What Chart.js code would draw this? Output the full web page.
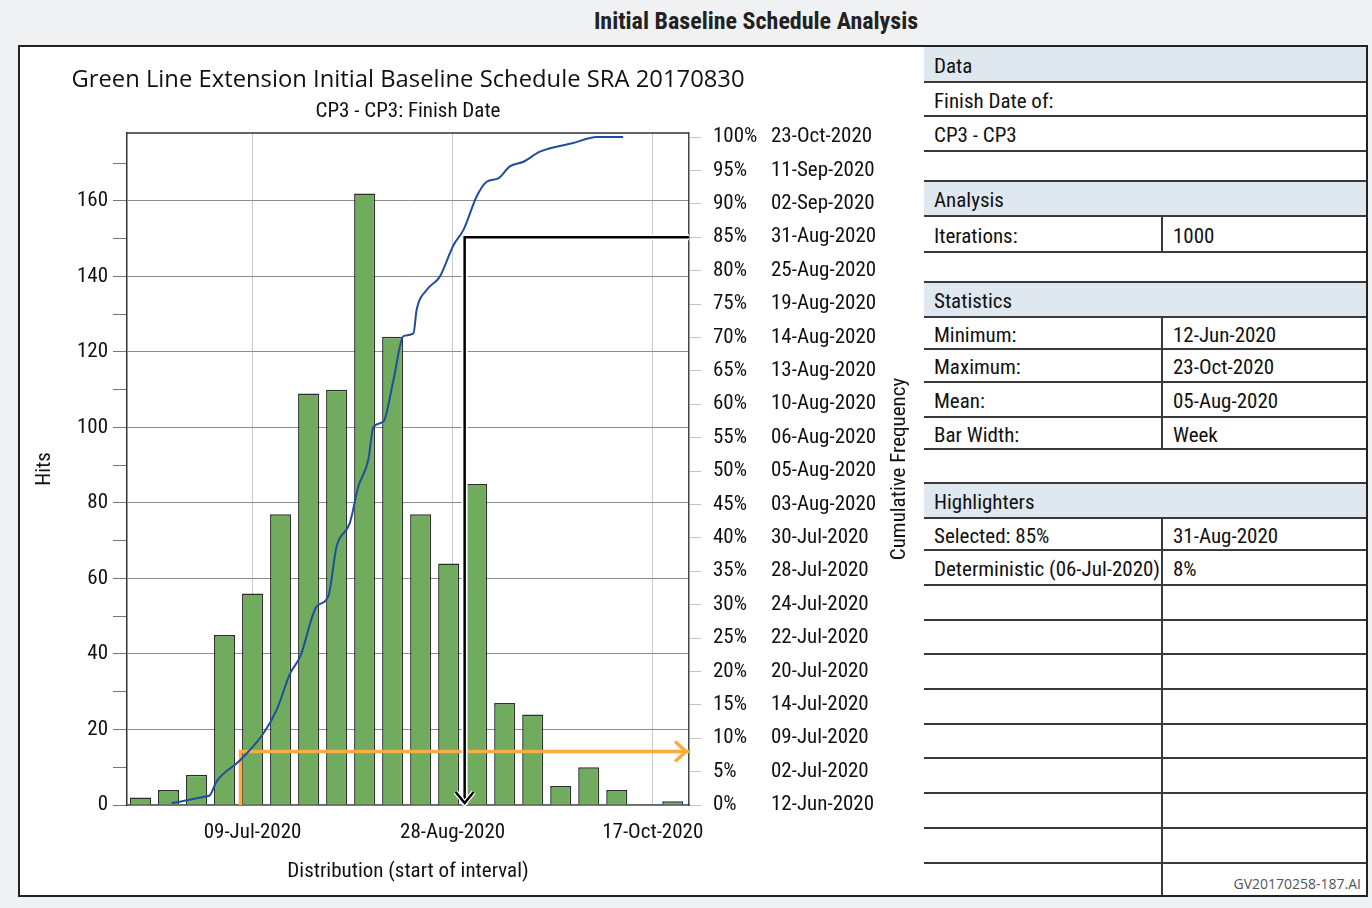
<!DOCTYPE html>
<html>
<head>
<meta charset="utf-8">
<script src="https://cdn.jsdelivr.net/npm/chart.js@4.4.1/dist/chart.umd.min.js"></script>
<style>
  html, body { margin: 0; padding: 0; background: #f0f1f3; }
  body { width: 1372px; height: 908px; position: relative; overflow: hidden;
         font-family: "Roboto Condensed", "DejaVu Sans Condensed", sans-serif; color: #1a1a1a; }
  #pageTitle { position: absolute; left: 456px; width: 600px; top: 6px; line-height: 30px; text-align: center;
               font-size: 24px; font-weight: bold; color: #222; }
  #frame { position: absolute; left: 18px; top: 45px; width: 1350px; height: 852px; box-sizing: border-box;
           border: 2px solid #222; background: #fff; }
  #chartWrap { position: absolute; left: 20px; top: 47px; width: 900px; height: 848px; }
  #chartTitle { position: absolute; left: 58px; width: 700px; top: 62px; line-height: 32px; text-align: center;
                font-family: "Open Sans", "Noto Sans", sans-serif; font-size: 23.8px; color: #111; white-space: nowrap; }
  #chartSub { position: absolute; left: 208px; width: 400px; top: 97px; line-height: 26px; text-align: center;
              font-size: 21px; color: #111; white-space: nowrap; }
  .tline { position: absolute; height: 2px; background: #3a3a3a; }
  .vline { position: absolute; width: 2px; background: #3a3a3a; }
  .thead { position: absolute; background: #dfe8ee; }
  .tcell { position: absolute; font-size: 21px; color: #111; white-space: nowrap; }
  #foot { position: absolute; right: 11px; top: 876px; font-family: "Open Sans", "Liberation Sans", sans-serif;
          font-size: 14px; color: #555; line-height: 16px; }
</style>
</head>
<body>
<div id="pageTitle">Initial Baseline Schedule Analysis</div>
<div id="frame"></div>
<div id="chartWrap"><canvas id="c" width="900" height="848"></canvas></div>
<div id="chartTitle">Green Line Extension Initial Baseline Schedule SRA 20170830</div>
<div id="chartSub">CP3 - CP3: Finish Date</div>
<div id="table"></div>
<div id="foot">GV20170258-187.AI</div>
<script>
// ---------------- DATA ----------------
const binCenters = ['2020-06-11','2020-06-18','2020-06-25','2020-07-02','2020-07-09','2020-07-16','2020-07-23',
  '2020-07-30','2020-08-06','2020-08-13','2020-08-20','2020-08-27','2020-09-03','2020-09-10','2020-09-17',
  '2020-09-24','2020-10-01','2020-10-08','2020-10-15','2020-10-22'];
const hits = [2, 4, 8, 45, 56, 77, 109, 110, 162, 124, 77, 64, 85, 27, 24, 5, 10, 4, 0, 1];

const baseDate = '2020-06-12';   // cumulative curve day offsets are counted from this date
const cumDays = [6.8, 15.5, 16.4, 18.0, 23.9, 29.7, 33.0, 36.4, 38.9, 43.0, 45.9, 48.0, 51.3, 53.4, 55.9,
  57.2, 59.7, 62.2, 64.7, 67.2, 68.0, 70.5, 73.8, 77.2, 79.7, 83.0, 85.5, 88.4, 91.3, 94.7, 98.8, 107.1, 113.0, 119.6];
const cumPct = [0.3, 1.3, 1.5, 3.5, 6.7, 10.7, 14.2, 19.7, 22.2, 29.7, 31.2, 38.7, 42.2, 47.6, 51.6,
  56.6, 57.4, 63.6, 70.2, 70.6, 74.1, 77.1, 79.1, 83.8, 86.1, 91.1, 93.3, 93.8, 95.6, 96.3, 97.8, 99.1, 100, 100];

const hitTicks = [0, 10, 20, 30, 40, 50, 60, 70, 80, 90, 100, 110, 120, 130, 140, 150, 160, 170];
const pctTicks = [0, 5, 10, 15, 20, 25, 30, 35, 40, 45, 50, 55, 60, 65, 70, 75, 80, 85, 90, 95, 100];
const pctDates = ['12-Jun-2020','02-Jul-2020','09-Jul-2020','14-Jul-2020','20-Jul-2020','22-Jul-2020','24-Jul-2020',
  '28-Jul-2020','30-Jul-2020','03-Aug-2020','05-Aug-2020','06-Aug-2020','10-Aug-2020','13-Aug-2020','14-Aug-2020',
  '19-Aug-2020','25-Aug-2020','31-Aug-2020','02-Sep-2020','11-Sep-2020','23-Oct-2020'];
const xTickDates = ['2020-07-09', '2020-08-28', '2020-10-17'];

const selectedPct = 85, selectedDate = '2020-08-31';
const detDate = '2020-07-06', detPct = 8;

const tableRows = [
  {top: 47,  bottom: 82,  head: true, a: 'Data'},
  {top: 82,  bottom: 116, a: 'Finish Date of:'},
  {top: 116, bottom: 151, a: 'CP3 - CP3'},
  {top: 181, bottom: 216, head: true, a: 'Analysis'},
  {top: 216, bottom: 252, a: 'Iterations:', b: '1000'},
  {top: 282, bottom: 317, head: true, a: 'Statistics'},
  {top: 317, bottom: 349, a: 'Minimum:', b: '12-Jun-2020'},
  {top: 349, bottom: 382, a: 'Maximum:', b: '23-Oct-2020'},
  {top: 382, bottom: 417, a: 'Mean:', b: '05-Aug-2020'},
  {top: 417, bottom: 449, a: 'Bar Width:', b: 'Week'},
  {top: 483, bottom: 518, head: true, a: 'Highlighters'},
  {top: 518, bottom: 550, a: 'Selected: 85%', b: '31-Aug-2020'},
  {top: 550, bottom: 585, a: 'Deterministic (06-Jul-2020)', b: '8%'},
  {top: 585, bottom: 620, a: '', b: ''},
  {top: 620, bottom: 654, a: '', b: ''},
  {top: 654, bottom: 689, a: '', b: ''},
  {top: 689, bottom: 724, a: '', b: ''},
  {top: 724, bottom: 758, a: '', b: ''},
  {top: 758, bottom: 793, a: '', b: ''},
  {top: 793, bottom: 828, a: '', b: ''},
  {top: 828, bottom: 863, a: '', b: ''},
  {top: 863, bottom: 895, a: '', b: '', last: true}
];

// ---------------- HELPERS ----------------
const CF = '"Roboto Condensed", "DejaVu Sans Condensed", sans-serif';
const MON = ['Jan','Feb','Mar','Apr','May','Jun','Jul','Aug','Sep','Oct','Nov','Dec'];
const dayNum = s => { const [y, m, d] = s.split('-').map(Number); return Date.UTC(y, m - 1, d) / 864e5; };
const fmtDate = v => { const d = new Date(Math.round(v) * 864e5);
  return String(d.getUTCDate()).padStart(2, '0') + '-' + MON[d.getUTCMonth()] + '-' + d.getUTCFullYear(); };
const base = dayNum(baseDate);
const X_MIN = base - 4.37, X_MAX = base + 136.06;

// ---------------- TABLE ----------------
(function buildTable() {
  const t = document.getElementById('table');
  const L = 924, R = 1366, MID = 1162;
  const add = (cls, css, text) => { const d = document.createElement('div'); d.className = cls;
    Object.assign(d.style, css); if (text !== undefined) d.textContent = text; t.appendChild(d); };
  tableRows.forEach(r => {
    const h = r.bottom - r.top;
    if (r.head) {
      add('thead', {left: L + 'px', top: r.top + 'px', width: (R - L) + 'px', height: h + 'px'});
      if (r.top > 50) add('tline', {left: L + 'px', top: (r.top - 1) + 'px', width: (R - L) + 'px'});
    }
    if (!r.last) add('tline', {left: L + 'px', top: (r.bottom - 1) + 'px', width: (R - L) + 'px'});
    if (r.b !== undefined) add('vline', {left: (MID - 1) + 'px', top: r.top + 'px', height: h + 'px'});
    add('tcell', {left: '934px', top: (r.top + 2) + 'px', lineHeight: h + 'px'}, r.a);
    if (r.b) add('tcell', {left: '1173px', top: (r.top + 2) + 'px', lineHeight: h + 'px'}, r.b);
  });
})();

// ---------------- CHART ----------------
const font = {family: CF, size: 21};
const ink = '#111';

const overlayPlugin = {
  id: 'overlay',
  afterDatasetsDraw(chart) {
    const {ctx, chartArea: a, scales} = chart;
    ctx.save();
    // top border of plot area
    ctx.strokeStyle = '#333'; ctx.lineWidth = 1.5;
    ctx.beginPath(); ctx.moveTo(a.left, a.top); ctx.lineTo(a.right, a.top); ctx.stroke();
    // black arrow head (selected percentile)
    const sx = scales.x.getPixelForValue(dayNum(selectedDate));
    const sy = scales.yPct.getPixelForValue(0) - 2;
    ctx.lineCap = 'butt'; ctx.lineJoin = 'miter';
    ctx.strokeStyle = '#fff'; ctx.lineWidth = 5;
    ctx.beginPath(); ctx.moveTo(sx - 9, sy - 11); ctx.lineTo(sx, sy); ctx.lineTo(sx + 9, sy - 11); ctx.stroke();
    ctx.strokeStyle = '#000'; ctx.lineWidth = 2.5;
    ctx.beginPath(); ctx.moveTo(sx - 9, sy - 11); ctx.lineTo(sx, sy); ctx.lineTo(sx + 9, sy - 11); ctx.stroke();
    // orange arrow head (deterministic)
    const oy = scales.yPct.getPixelForValue(detPct);
    const ox = a.right - 3;
    ctx.strokeStyle = '#f7ae40'; ctx.lineWidth = 3.5;
    ctx.beginPath(); ctx.moveTo(ox - 11, oy - 10); ctx.lineTo(ox, oy); ctx.lineTo(ox - 11, oy + 10); ctx.stroke();
    ctx.restore();
  },
  afterDraw(chart) {
    const {ctx, chartArea: a} = chart;
    const s = chart.scales.yDate;
    ctx.save();
    ctx.translate(s.right - 20, (a.top + a.bottom) / 2);
    ctx.rotate(-Math.PI / 2);
    ctx.font = '21px ' + CF;
    ctx.fillStyle = ink; ctx.textAlign = 'center'; ctx.textBaseline = 'middle';
    ctx.fillText(s.options.title.text, 0, 0);
    ctx.restore();
  }
};

const selX = dayNum(selectedDate), detX = dayNum(detDate);
const selLine = [{x: X_MAX, y: selectedPct}, {x: selX, y: selectedPct}, {x: selX, y: 0}];
const detLine = [{x: detX, y: 0}, {x: detX, y: detPct}, {x: X_MAX, y: detPct}];

const chart = new Chart(document.getElementById('c'), {
  type: 'bar',
  data: {
    datasets: [
      { type: 'line', label: 'Cumulative Frequency', yAxisID: 'yPct',
        data: cumDays.map((d, i) => ({x: base + d, y: cumPct[i]})),
        borderColor: '#1f4e9f', borderWidth: 2, pointRadius: 0, cubicInterpolationMode: 'monotone', order: 1 },
      { type: 'line', label: 'Selected 85%', yAxisID: 'yPct', data: selLine,
        borderColor: '#000', borderWidth: 2.5, pointRadius: 0, tension: 0, order: 2 },
      { type: 'line', label: 'Selected halo', yAxisID: 'yPct', data: selLine,
        borderColor: '#fff', borderWidth: 6, pointRadius: 0, tension: 0, order: 3 },
      { type: 'line', label: 'Deterministic', yAxisID: 'yPct', data: detLine,
        borderColor: '#f7ae40', borderWidth: 3.5, pointRadius: 0, tension: 0, order: 4 },
      { type: 'bar', label: 'Hits', yAxisID: 'y',
        data: binCenters.map((s, i) => ({x: dayNum(s), y: hits[i]})),
        backgroundColor: '#70ab5e', borderColor: '#2e2e2e', borderWidth: 1.5,
        barPercentage: 0.75, categoryPercentage: 1.0, order: 5 }
    ]
  },
  options: {
    responsive: false, animation: false, devicePixelRatio: 1,
    layout: { padding: {top: 86, left: 0, right: 0, bottom: 0} },
    plugins: { legend: {display: false}, tooltip: {enabled: false}, title: {display: false} },
    scales: {
      x: { type: 'linear', min: X_MIN, max: X_MAX, offset: false,
        afterBuildTicks: s => { s.ticks = xTickDates.map(d => ({value: dayNum(d)})); },
        ticks: { callback: v => fmtDate(v), font, color: ink, padding: 15, maxRotation: 0, autoSkip: false },
        grid: { offset: false, color: '#c8c8c8', lineWidth: 1, drawTicks: false },
        border: { display: true, color: '#666', width: 1.5 },
        title: { display: true, text: 'Distribution (start of interval)', font, color: ink, padding: {top: 0, bottom: 11} },
        afterFit: s => { s.height = 90; } },
      y: { type: 'linear', position: 'left', min: 0, max: 178,
        afterBuildTicks: s => { s.ticks = hitTicks.map(v => ({value: v})); },
        ticks: { callback: v => (v % 20 === 0 ? String(v) : ''), font, color: ink, padding: 5 },
        grid: { color: c => (c.tick && c.tick.value % 20 === 0 ? '#8d8d8d' : 'rgba(0,0,0,0)'),
                tickColor: '#777', tickLength: 14, drawTicks: true, lineWidth: 1 },
        border: { display: true, color: '#333', width: 1.5 },
        title: { display: true, text: 'Hits', font, color: ink, padding: {top: 12, bottom: 0} },
        afterFit: s => { s.width = 107; } },
      yPct: { type: 'linear', position: 'right', min: 0, max: 100.6, weight: 0,
        afterBuildTicks: s => { s.ticks = pctTicks.map(v => ({value: v})); },
        ticks: { callback: v => v + '%', font, color: ink, padding: 12 },
        grid: { drawOnChartArea: false, drawTicks: true, tickLength: 12, tickColor: '#c4c4c4' },
        border: { display: true, color: '#444', width: 1.5 },
        afterFit: s => { s.width = 82; } },
      yDate: { type: 'linear', position: 'right', min: 0, max: 100.6, weight: 1,
        afterBuildTicks: s => { s.ticks = pctTicks.map(v => ({value: v})); },
        ticks: { callback: (v, i) => pctDates[i], font, color: ink, padding: 0 },
        grid: { display: false, drawTicks: false },
        border: { display: false },
        title: { display: false, text: 'Cumulative Frequency' },
        afterFit: s => { s.width = 149; } }
    }
  },
  plugins: [overlayPlugin]
});
</script>
</body>
</html>
